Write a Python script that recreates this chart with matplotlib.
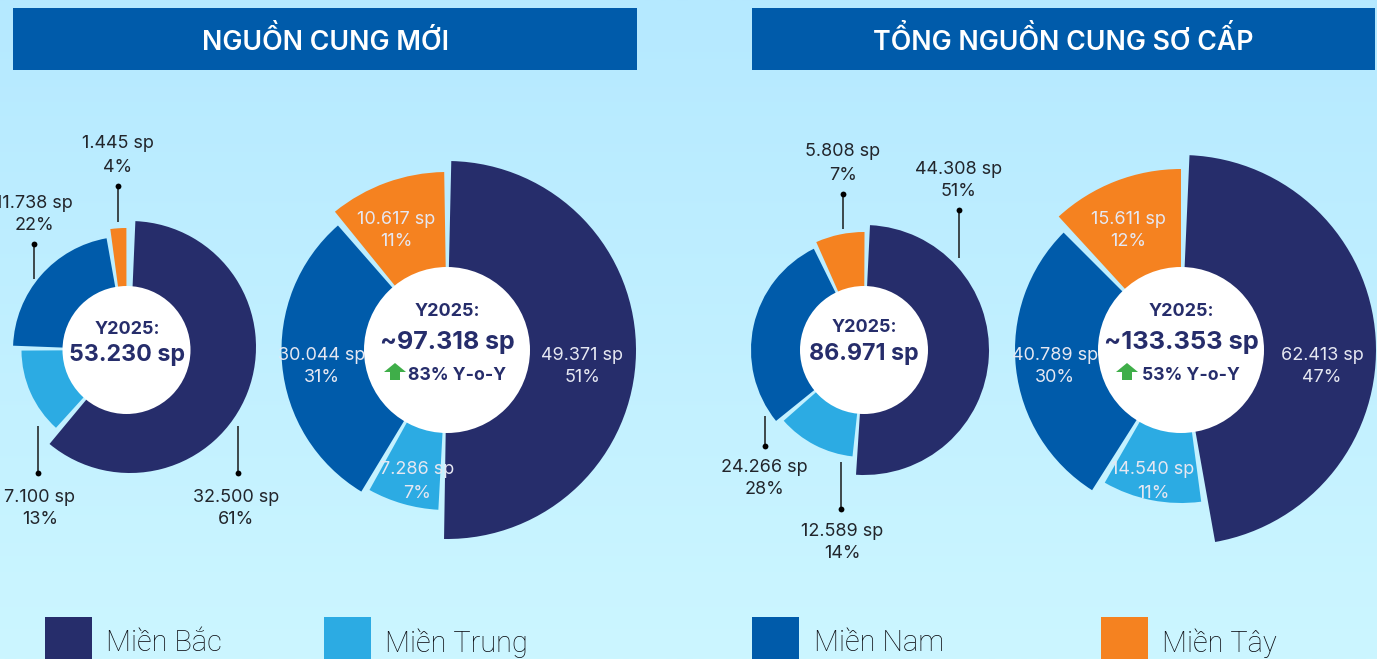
import numpy as np
import matplotlib
matplotlib.use('Agg')
import matplotlib.pyplot as plt
from matplotlib.patches import Wedge, Circle, Rectangle, Polygon

plt.rcParams['font.family'] = ['Inter', 'Roboto', 'DejaVu Sans']

# Data: order is Bac, Trung, Nam, Tay
regions = ['Miền Bắc', 'Miền Trung', 'Miền Nam', 'Miền Tây']
titles = ['NGUỒN CUNG MỚI', 'TỔNG NGUỒN CUNG SƠ CẤP']

# share of each slice as drawn in the picture (%)
new_small = [61.1, 13.9, 22.3, 2.8]
new_big = [50.5, 7.8, 30.5, 11.2]
total_small = [51.0, 12.5, 29.2, 7.4]
total_big = [47.2, 11.1, 29.2, 12.5]

new_small_labels = ['32.500 sp', '7.100 sp', '11.738 sp', '1.445 sp']
new_small_pct = ['61%', '13%', '22%', '4%']
new_big_labels = ['49.371 sp', '7.286 sp', '30.044 sp', '10.617 sp']
new_big_pct = ['51%', '7%', '31%', '11%']
total_small_labels = ['44.308 sp', '12.589 sp', '24.266 sp', '5.808 sp']
total_small_pct = ['51%', '14%', '28%', '7%']
total_big_labels = ['62.413 sp', '14.540 sp', '40.789 sp', '15.611 sp']
total_big_pct = ['47%', '11%', '30%', '12%']

# Colours
NAVY = '#262D6B'
SKY = '#2CABE3'
BLUE = '#005BAA'
ORANGE = '#F58220'
colors = [NAVY, SKY, BLUE, ORANGE]
TEXT = '#22252B'
SOFT = '#E6E8F2'
GREEN = '#3FAE49'

W, H = 1377, 659
fig = plt.figure(figsize=(W / 100, H / 100), dpi=100)
ax = fig.add_axes([0, 0, 1, 1])
# pixel coordinates, y down: wedge angles run clockwise on screen
ax.set_xlim(0, W)
ax.set_ylim(H, 0)
ax.axis('off')

grad = np.linspace(0, 1, 256).reshape(-1, 1)
grad = np.dstack([181 / 255 + grad * 23 / 255, 233 / 255 + grad * 13 / 255, np.ones_like(grad)])
ax.imshow(grad, extent=[0, W, H, 0], aspect='auto', zorder=0)
ax.set_xlim(0, W)
ax.set_ylim(H, 0)


def px(size):
    return size * 72 / 100


def donut(cx, cy, shares, radii, hole, start, pad, navy_shift=(0, 0)):
    shares = np.array(shares) / sum(shares) * 360
    a = start
    for i, s in enumerate(shares):
        c = (cx + navy_shift[0], cy + navy_shift[1]) if i == 0 else (cx, cy)
        ax.add_patch(Wedge(c, radii[i], a + pad / 2 - 90, a + s - pad / 2 - 90,
                           facecolor=colors[i], edgecolor='none', zorder=2))
        a += s
    ax.add_patch(Circle((cx, cy), hole, facecolor='white', edgecolor='none', zorder=3))


def label(x, y1, y2, top, bottom, color=TEXT):
    ax.text(x, y1 + 2, top, ha='center', va='center', fontsize=px(18), color=color, zorder=5)
    ax.text(x, y2 + 2, bottom, ha='center', va='center', fontsize=px(18), color=color, zorder=5)


def leader(x, y_dot, y_end):
    ax.plot([x, x], [y_dot, y_end], color='#1A1A1A', lw=1.1, zorder=4, solid_capstyle='butt')
    ax.plot([x], [y_dot], 'o', color='black', ms=4.2, mec='none', zorder=4)


def center_text(cx, y1, y2, total, size):
    ax.text(cx, y1 + 2, 'Y2025:', ha='center', va='center', fontsize=px(18), color=NAVY, fontweight='bold', zorder=5)
    ax.text(cx, y2 + 2, total, ha='center', va='center', fontsize=px(size), color=NAVY, fontweight='bold', zorder=5)


def yoy(x_arrow, x_text, text):
    y = 372
    ax.add_patch(Polygon([(x_arrow, y), (x_arrow + 11, y - 9), (x_arrow + 22, y), (x_arrow + 16, y),
                          (x_arrow + 16, y + 8), (x_arrow + 6, y + 8), (x_arrow + 6, y)],
                         closed=True, facecolor=GREEN, edgecolor='none', zorder=5))
    ax.text(x_text, 376, text, ha='left', va='center', fontsize=px(17.6), color=NAVY, fontweight='bold', zorder=5)


# Header bars
for x0, x1, t in [(13, 637, titles[0]), (752, 1375, titles[1])]:
    ax.add_patch(Rectangle((x0, 8), x1 - x0, 62, facecolor=BLUE, edgecolor='none', zorder=2))
    ax.text((x0 + x1) / 2, 41, t, ha='center', va='center', fontsize=px(26.7), color='white',
            fontweight='semibold', zorder=3)

# Donuts
donut(126.5, 350, new_small, [126, 105, 113.5, 122], 64, 1.2, 2.5, navy_shift=(3.5, -3))
donut(447, 350, new_big, [189, 160, 165.5, 178], 83, 0.2, 2.2)
donut(864, 350, total_small, [125, 107, 113, 118], 64, 1.5, 2.5)
donut(1181, 350, total_big, [195, 153, 166, 181], 83, 1.25, 2.5)

# Outside labels, first chart
label(236, 495, 517, new_small_labels[0], new_small_pct[0])
label(40, 495, 517, new_small_labels[1], new_small_pct[1])
label(34, 201, 223, new_small_labels[2], new_small_pct[2])
label(118, 142, 165, new_small_labels[3], new_small_pct[3])
leader(238, 473, 426)
leader(38, 473, 426)
leader(33.5, 244, 279)
leader(118, 186, 222)

# Inside labels, second chart
label(582, 353, 376, new_big_labels[0], new_big_pct[0], SOFT)
label(417, 468, 491, new_big_labels[1], new_big_pct[1], SOFT)
label(322, 353, 376, new_big_labels[2], new_big_pct[2], SOFT)
label(396, 217, 239, new_big_labels[3], new_big_pct[3], SOFT)

# Outside labels, third chart
label(959, 167, 189, total_small_labels[0], total_small_pct[0])
label(842, 529, 552, total_small_labels[1], total_small_pct[1])
label(764, 465, 488, total_small_labels[2], total_small_pct[2])
label(843, 150, 173, total_small_labels[3], total_small_pct[3])
leader(959, 210, 258)
leader(841, 509, 462)
leader(764.5, 446, 416)
leader(843, 194, 229)

# Inside labels, fourth chart
label(1322, 353, 376, total_big_labels[0], total_big_pct[0], SOFT)
label(1153, 468, 491, total_big_labels[1], total_big_pct[1], SOFT)
label(1055, 353, 376, total_big_labels[2], total_big_pct[2], SOFT)
label(1128, 217, 240, total_big_labels[3], total_big_pct[3], SOFT)

# Centre texts
center_text(127, 327, 353, '53.230 sp', 23.2)
center_text(447, 310, 340, '~97.318 sp', 25)
center_text(864, 326, 352, '86.971 sp', 23.2)
center_text(1181, 310, 340, '~133.353 sp', 25.5)
yoy(384, 408, '83% Y-o-Y')
yoy(1116, 1142, '53% Y-o-Y')

# Legend
for x, tx, col, name in zip([45, 324, 752, 1101], [106, 385, 814, 1162], colors, regions):
    ax.add_patch(Rectangle((x, 617), 47, 42, facecolor=col, edgecolor='none', zorder=2))
    ax.text(tx, 643, name, ha='left', va='center', fontsize=px(29), color='#0C0C12', family=['Roboto', 'DejaVu Sans'],
            fontweight='light', zorder=3)

fig.savefig('out.png', dpi=100)
